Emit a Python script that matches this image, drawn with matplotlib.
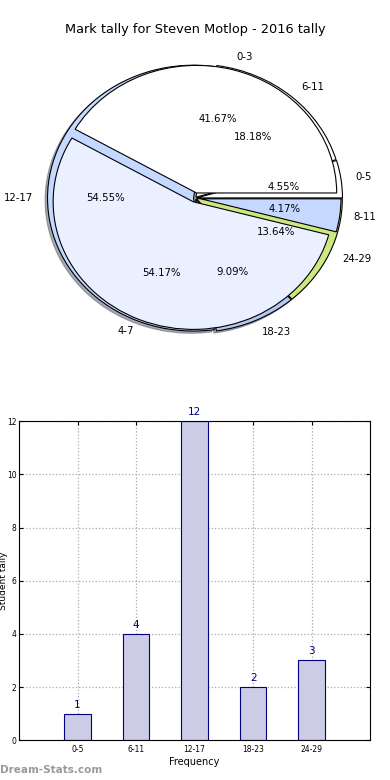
import matplotlib
matplotlib.use("Agg")
import matplotlib.pyplot as plt

# data
titulo = "Mark tally for Steven Motlop - 2016 tally"

# pie A (marks, groups of 4)
etiquetas_a = ["0-3", "4-7", "8-11"]
valores_a = [10, 13, 1]
colores_a = ["#ffffff", "#eaf0ff", "#c5d8ff"]

# pie B / bars (groups of 6)
etiquetas_b = ["0-5", "6-11", "12-17", "18-23", "24-29"]
valores_b = [1, 4, 12, 2, 3]
colores_b = ["#ffffff", "#ffffff", "#c5d8ff", "#b4c8f0", "#cce880"]

fig = plt.figure(figsize=(3.9, 7.8), dpi=100)

# --- pie ---
ax1 = fig.add_axes([0.032, 0.533, 0.936, 0.426])
wedges_b, textos_b, pct_b = ax1.pie(
    valores_b, labels=etiquetas_b, colors=colores_b, autopct="%1.2f%%",
    shadow={"ox": -0.012, "oy": -0.012, "shade": 0.6},
    explode=[0.01] * 5, radius=1.0,
    wedgeprops={"edgecolor": "black", "linewidth": 0.8},
    textprops={"fontsize": 7.3})
wedges_a, textos_a, pct_a = ax1.pie(
    valores_a, labels=etiquetas_a, colors=colores_a, autopct="%1.2f%%",
    explode=[0.04, 0.03, 0.04], radius=0.96,
    wedgeprops={"edgecolor": "black", "linewidth": 0.8},
    textprops={"fontsize": 7.3})
ax1.set_aspect("auto")
ax1.set_xlim(-1.25, 1.25)
ax1.set_ylim(-1.25, 1.25)
fig.text(0.5, 1 - 30 / 780, titulo, ha="center", va="center", fontsize=9.3)

# --- bars ---
ax2 = fig.add_axes([0.049, 0.051, 0.9, 0.409])
x = list(range(len(etiquetas_b)))
ax2.bar(x, valores_b, width=0.45, color="#ccccE6", edgecolor="#000080",
        linewidth=0.8, zorder=2)
for xi, v in zip(x, valores_b):
    ax2.text(xi, v + 0.15, str(v), ha="center", va="bottom", color="#000080",
             fontsize=7.5, clip_on=False)
ax2.set_xlim(-1, 5)
ax2.set_ylim(0, 12)
ax2.set_xticks(x)
ax2.set_xticklabels(etiquetas_b)
ax2.set_yticks(range(0, 13, 2))
ax2.tick_params(labelsize=5.5, direction="in", top=True, right=True, length=3)
ax2.tick_params(axis="y", pad=2)
ax2.grid(True, linestyle=":", color="#aaaaaa", linewidth=0.9, zorder=0)
ax2.set_axisbelow(True)
ax2.set_xlabel("Frequency", fontsize=7, labelpad=2)
ax2.set_ylabel("Student tally", fontsize=6.5)
ax2.yaxis.set_label_coords(-0.031, 0.5)

fig.text(0.0, 1 - 770 / 780, "Dream-Stats.com", ha="left", va="center",
         fontsize=7.5, fontweight="bold", color="#999999")

fig.savefig("out.png", dpi=100)
